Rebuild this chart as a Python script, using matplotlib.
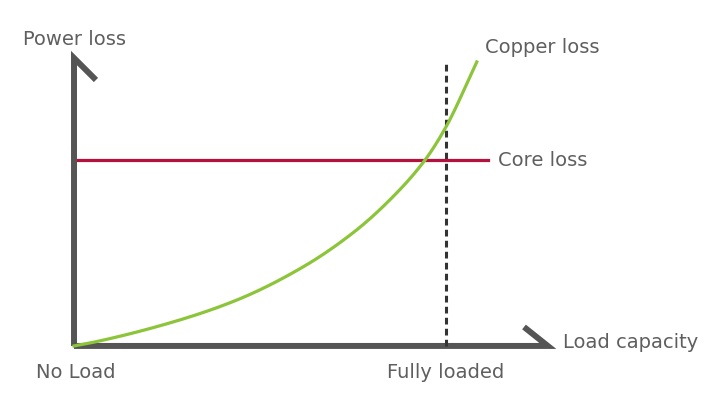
import numpy as np
import matplotlib
matplotlib.use("Agg")
import matplotlib.pyplot as plt

plt.rcParams['font.family'] = ['DejaVu Sans']

# load as a fraction of full load, power loss relative to core loss
copper_load = [0.0, 0.043, 0.258, 0.438, 0.616, 0.750, 0.841, 0.944, 1.0, 1.083]
copper_loss = [0.0, 0.016, 0.124, 0.247, 0.425, 0.608, 0.769, 1.0, 1.177, 1.527]
core_load = [0.01, 1.113]
core_loss = [1.0, 1.0]
full_load = 1.0
dash_top = 1.52


def pchip(x, y, xs):
    # monotone cubic through the read points
    x = np.asarray(x, float)
    y = np.asarray(y, float)
    h = np.diff(x)
    d = np.diff(y) / h
    m = np.zeros_like(y)
    for k in range(1, len(x) - 1):
        if d[k - 1] * d[k] > 0:
            w1 = 2 * h[k] + h[k - 1]
            w2 = h[k] + 2 * h[k - 1]
            m[k] = (w1 + w2) / (w1 / d[k - 1] + w2 / d[k])
    m[0] = d[0]
    m[-1] = d[-1]
    out = np.empty_like(xs)
    idx = np.clip(np.searchsorted(x, xs) - 1, 0, len(x) - 2)
    for j, (xv, i) in enumerate(zip(xs, idx)):
        t = (xv - x[i]) / h[i]
        h00 = 2 * t**3 - 3 * t**2 + 1
        h10 = t**3 - 2 * t**2 + t
        h01 = -2 * t**3 + 3 * t**2
        h11 = t**3 - t**2
        out[j] = h00 * y[i] + h10 * h[i] * m[i] + h01 * y[i + 1] + h11 * h[i] * m[i + 1]
    return out


fig = plt.figure(figsize=(7.2, 4.09), dpi=100)
ax = fig.add_axes([0, 0, 1, 1])
ax.set_xlim(-0.199, 1.737)
ax.set_ylim(-0.339, 1.860)
ax.axis('off')

axis_col = '#555555'
# y axis with slanted tip
ax.plot([0, 0, 0.059], [0, 1.548, 1.43], color=axis_col, lw=4.3,
        solid_joinstyle='miter', solid_capstyle='butt')
# x axis with slanted tip
ax.plot([0, 1.274, 1.21], [0, 0, 0.102], color=axis_col, lw=4.3,
        solid_joinstyle='miter', solid_capstyle='butt')

ax.plot([full_load, full_load], [0, dash_top], color='#333333', lw=2.2,
        linestyle=(0, (2.2, 1.4)))
ax.plot(core_load, core_loss, color='#b3123c', lw=2.3)

xs = np.linspace(copper_load[0], copper_load[-1], 300)
ax.plot(xs, pchip(copper_load, copper_loss, xs), color='#8cc43a', lw=2.3)

tc = '#5f5f5f'
fs = 14
ax.text(-0.137, 1.645, 'Power loss', color=tc, fontsize=fs, va='center', ha='left')
ax.text(1.105, 1.602, 'Copper loss', color=tc, fontsize=fs, va='center', ha='left')
ax.text(1.140, 0.995, 'Core loss', color=tc, fontsize=fs, va='center', ha='left')
ax.text(1.315, 0.016, 'Load capacity', color=tc, fontsize=fs, va='center', ha='left')
ax.text(0.005, -0.145, 'No Load', color=tc, fontsize=fs, va='center', ha='center')
ax.text(full_load, -0.145, 'Fully loaded', color=tc, fontsize=fs, va='center', ha='center')

fig.savefig('out.png', dpi=100)
